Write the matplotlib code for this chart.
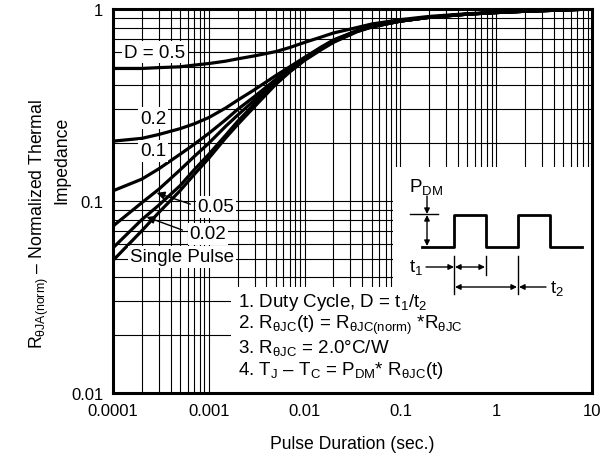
import matplotlib
matplotlib.use("Agg")
import matplotlib.pyplot as plt
from matplotlib.patches import Rectangle
from matplotlib.transforms import Affine2D

plt.rcParams["font.family"] = ["Liberation Sans", "DejaVu Sans"]
plt.rcParams["mathtext.fontset"] = "custom"
plt.rcParams["mathtext.rm"] = "Liberation Sans"
plt.rcParams["mathtext.it"] = "Liberation Sans"

# pulse duration (s)
t_pts = [1e-4, 2e-4, 3e-4, 5e-4, 7e-4, 1e-3, 1.5e-3, 2e-3, 3e-3, 5e-3, 7e-3, 1e-2,
         1.5e-2, 2e-2, 3.5e-2, 5e-2, 0.1, 0.2, 0.5, 1, 2, 5, 10]

# normalized thermal impedance per duty cycle
tail = [0.905, 0.94, 0.958, 0.973, 0.988, 1.0]
z_d50 = [0.49, 0.49, 0.495, 0.50, 0.51, 0.52, 0.535, 0.55, 0.57, 0.60, 0.63, 0.67,
         0.715, 0.75, 0.80, 0.835, 0.88, 0.915, 0.945, 0.96, 0.975, 0.99, 1.0]
z_d20 = [0.205, 0.212, 0.222, 0.238, 0.252, 0.272, 0.305, 0.335, 0.38, 0.45, 0.50, 0.56,
         0.635, 0.69, 0.77, 0.81, 0.865] + tail
z_d10 = [0.113, 0.13, 0.147, 0.175, 0.197, 0.225, 0.265, 0.30, 0.35, 0.43, 0.49, 0.555,
         0.63, 0.685, 0.77, 0.81, 0.865] + tail
z_d05 = [0.074, 0.098, 0.115, 0.145, 0.17, 0.20, 0.245, 0.28, 0.335, 0.42, 0.485, 0.55,
         0.625, 0.68, 0.765, 0.81, 0.865] + tail
z_d02 = [0.057, 0.08, 0.095, 0.12, 0.145, 0.175, 0.22, 0.26, 0.32, 0.41, 0.475, 0.545,
         0.62, 0.675, 0.765, 0.805, 0.865] + tail
z_single = [0.049, 0.07, 0.087, 0.113, 0.137, 0.167, 0.213, 0.25, 0.31, 0.405, 0.47, 0.54,
            0.615, 0.67, 0.76, 0.805, 0.865] + tail

x_ticks = [1e-4, 1e-3, 1e-2, 1e-1, 1, 10]
x_labels = ["0.0001", "0.001", "0.01", "0.1", "1", "10"]
y_ticks = [0.01, 0.1, 1]
y_labels = ["0.01", "0.1", "1"]

W, H = 612, 464
fig = plt.figure(figsize=(W / 100, H / 100), dpi=100)
ax = fig.add_axes([113 / W, (H - 394) / H, 479 / W, 384 / H])
# top-left pixel coordinates for annotations
T = Affine2D().scale(1 / W, -1 / H).translate(0, 1) + fig.transFigure

ax.set_xscale("log")
ax.set_yscale("log")
ax.set_xlim(1e-4, 10)
ax.set_ylim(0.01, 1)
ax.set_axisbelow(True)
ax.grid(True, which="both", color="black", lw=0.8)
ax.set_xticks(x_ticks, x_labels)
ax.set_yticks(y_ticks, y_labels)
ax.tick_params(which="both", length=0, labelsize=12, pad=7)
for s in ax.spines.values():
    s.set_linewidth(2.2)

for z in [z_d50, z_d20, z_d10, z_d05, z_d02, z_single]:
    ax.plot(t_pts, z, color="black", lw=2.3, zorder=2)

# white areas hiding the grid
for (x0, y0, w, h) in [(231, 288, 361, 106), (393, 168, 199, 120)]:
    ax.add_patch(Rectangle((x0, y0), w, h, transform=T, facecolor="white",
                           edgecolor="none", zorder=1))

fs = 13.5
box = dict(facecolor="white", edgecolor="none", pad=1.5)
lbl = dict(transform=T, fontsize=fs, ha="center", va="center", zorder=3, bbox=box)
ax.text(155, 53, "D = 0.5", **lbl)
ax.text(153, 119, "0.2", **lbl)
ax.text(153, 152, "0.1", **lbl)
ax.text(216, 208, "0.05", **lbl)
ax.text(208, 235, "0.02", **lbl)
ax.text(182, 258, "Single Pulse", **lbl)
arr = dict(arrowstyle="-|>", color="black", lw=1, mutation_scale=12)
ax.annotate("", xy=(154, 193), xytext=(193, 206), xycoords=T, textcoords=T,
            arrowprops=arr, zorder=3)
ax.annotate("", xy=(144, 217), xytext=(185, 232), xycoords=T, textcoords=T,
            arrowprops=arr, zorder=3)

notes = ["1. Duty Cycle, D = t$_{1}$/t$_{2}$",
         "2. R$_{\\mathrm{\u03b8JC}}$(t) = R$_{\\mathrm{\u03b8JC(norm)}}$ *R$_{\\mathrm{\u03b8JC}}$",
         "3. R$_{\\mathrm{\u03b8JC}}$ = 2.0\u00b0C/W",
         "4. T$_{\\mathrm{J}}$ \u2013 T$_{\\mathrm{C}}$ = P$_{\\mathrm{DM}}$* R$_{\\mathrm{\u03b8JC}}$(t)"]
for i, s in enumerate(notes):
    ax.text(238, 303 + 22.4 * i, s, transform=T, fontsize=fs, ha="left",
            va="center", zorder=3)

# pulse diagram
px = [422, 454, 454, 486, 486, 518, 518, 550, 550, 582]
py = [248, 248, 216, 216, 248, 248, 216, 216, 248, 248]
ax.plot(px, py, transform=T, color="black", lw=2, clip_on=False, zorder=3)
ax.plot([410, 438], [215, 215], transform=T, color="black", lw=1, clip_on=False, zorder=3)
for xv, y0, y1 in [(454, 257, 295), (486, 257, 276), (518, 257, 295)]:
    ax.plot([xv, xv], [y0, y1], transform=T, color="black", lw=1, clip_on=False, zorder=3)
a2 = dict(arrowstyle="<|-|>", color="black", lw=1, mutation_scale=8, shrinkA=0, shrinkB=0)
a1 = dict(arrowstyle="-|>", color="black", lw=1, mutation_scale=8, shrinkA=0, shrinkB=0)
ax.annotate("", xy=(427, 215), xytext=(427, 197), xycoords=T, textcoords=T, arrowprops=a1)
ax.annotate("", xy=(427, 216), xytext=(427, 247), xycoords=T, textcoords=T, arrowprops=a2)
ax.annotate("", xy=(454, 268), xytext=(426, 268), xycoords=T, textcoords=T, arrowprops=a1)
ax.annotate("", xy=(455, 268), xytext=(485, 268), xycoords=T, textcoords=T, arrowprops=a2)
ax.annotate("", xy=(455, 288), xytext=(517, 288), xycoords=T, textcoords=T, arrowprops=a2)
ax.annotate("", xy=(519, 288), xytext=(546, 288), xycoords=T, textcoords=T, arrowprops=a1)
ax.text(426, 187, "P$_{\\mathrm{DM}}$", transform=T, fontsize=fs, ha="center", va="center")
ax.text(416, 268, "t$_{1}$", transform=T, fontsize=fs, ha="center", va="center")
ax.text(557, 289, "t$_{2}$", transform=T, fontsize=fs, ha="center", va="center")

# axis titles
fig.text(352 / W, 1 - 445 / H, "Pulse Duration (sec.)", fontsize=12.7, ha="center", va="center")
fig.text(39 / W, 1 - 224 / H, "R$_{\\mathrm{\u03b8JA(norm)}}$ \u2013 Normalized Thermal",
         fontsize=12.7, rotation=90, ha="center", va="center")
fig.text(62 / W, 1 - 160 / H, "Impedance", fontsize=12.7, rotation=90, ha="center", va="center")

fig.savefig("out.png", dpi=100)
